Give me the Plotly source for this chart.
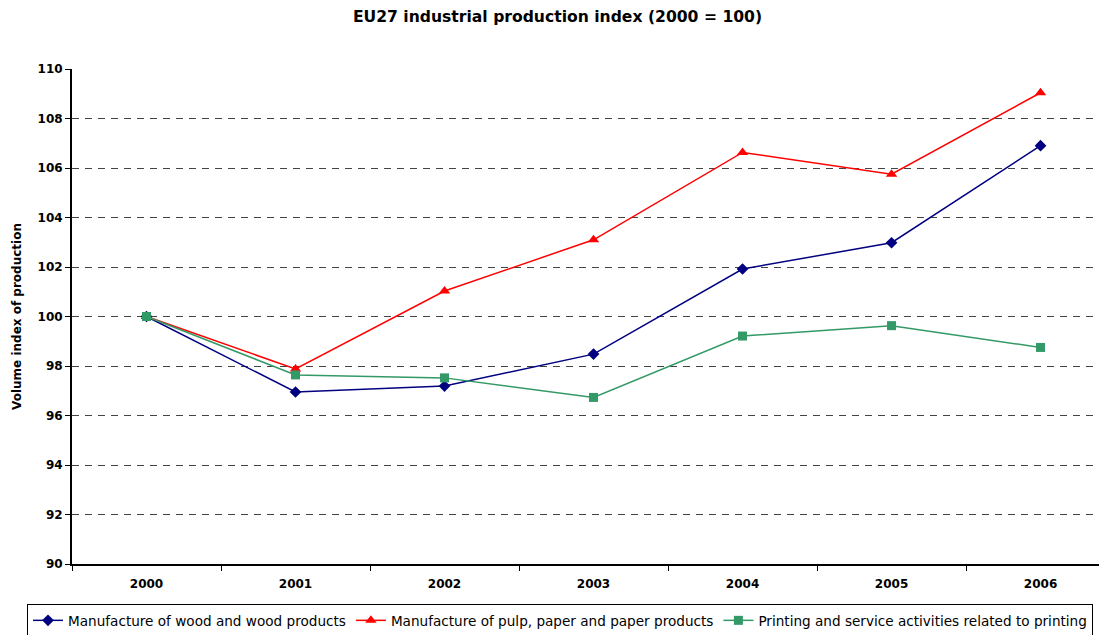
import plotly.graph_objects as go

years = ["2000", "2001", "2002", "2003", "2004", "2005", "2006"]
wood = [100.0, 96.95, 97.19, 98.48, 101.92, 102.98, 106.9]
pulp = [100.0, 97.88, 101.03, 103.1, 106.63, 105.75, 109.04]
printing = [100.0, 97.64, 97.52, 96.73, 99.21, 99.63, 98.75]

names = [
    "Manufacture of wood and wood products",
    "Manufacture of pulp, paper and paper products",
    "Printing and service activities related to printing",
]
y_ticks = [90, 92, 94, 96, 98, 100, 102, 104, 106, 108, 110]

FONT = "DejaVu Sans, Liberation Sans, Arial, sans-serif"

# The page body adds an 8 px offset, so the figure is 8 px smaller in each direction
W, H = 1099, 627
L, T, B = 64, 61, 71
plot_w = W - L
plot_h = H - T - B

fig = go.Figure()
fig.add_trace(go.Scatter(
    x=years, y=wood, name=names[0], mode="lines+markers",
    line=dict(color="#000080", width=1.5),
    marker=dict(symbol="diamond", size=9, color="#000080"),
))
fig.add_trace(go.Scatter(
    x=years, y=pulp, name=names[1], mode="lines+markers",
    line=dict(color="#FF0000", width=1.5),
    marker=dict(symbol="triangle-up", size=10, color="#FF0000"),
))
fig.add_trace(go.Scatter(
    x=years, y=printing, name=names[2], mode="lines+markers",
    line=dict(color="#339966", width=1.5),
    marker=dict(symbol="square", size=9, color="#339966"),
))

fig.update_layout(
    width=W, height=H,
    margin=dict(l=L, r=0, t=T, b=B, autoexpand=False),
    paper_bgcolor="white", plot_bgcolor="white",
    font=dict(family=FONT, size=12, color="black"),
    title=dict(
        text="<b>EU27 industrial production index (2000 = 100)</b>",
        x=0.5, xref="container", xanchor="center",
        y=1 - 9 / H, yref="container", yanchor="middle",
        font=dict(family=FONT, size=15.6, color="black"),
    ),
    showlegend=True,
    legend=dict(
        orientation="h",
        x=(19 - L) / plot_w, xref="paper", xanchor="left",
        y=-(596 - (H - B)) / plot_h, yref="paper", yanchor="top",
        bordercolor="black", borderwidth=1, bgcolor="white",
        font=dict(family=FONT, size=13.6, color="black"),
        itemwidth=30, tracegroupgap=0,
    ),
)

fig.update_xaxes(
    type="category", categoryorder="array", categoryarray=years,
    range=[-0.5, 6.446], automargin=False,
    showline=True, linecolor="black", linewidth=2,
    ticks="outside", tickson="boundaries", ticklen=5, tickcolor="black", tickwidth=1,
    ticklabelstandoff=8,
    showgrid=False, zeroline=False,
    tickfont=dict(family=FONT, size=12, color="black", weight="bold"),
)
fig.update_yaxes(
    range=[90, 110], tickvals=y_ticks, automargin=False,
    showline=True, linecolor="black", linewidth=2,
    ticks="outside", ticklen=5, tickcolor="black", tickwidth=1,
    showgrid=True, gridcolor="#444444", gridwidth=1, griddash="7px,6px",
    zeroline=False,
    tickfont=dict(family=FONT, size=12, color="black", weight="bold"),
    title=dict(text="<b>Volume index of production</b>", standoff=13,
               font=dict(family=FONT, size=12, color="black")),
)

fig.write_html("out.html")
